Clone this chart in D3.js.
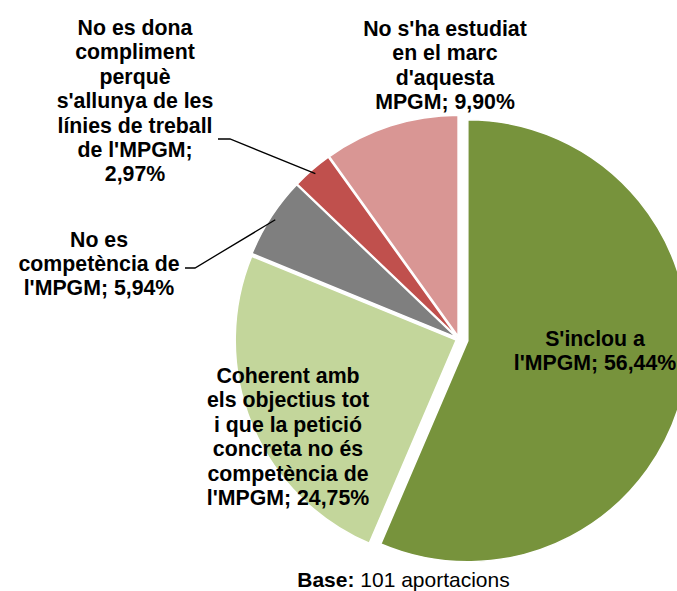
<!DOCTYPE html>
<html>
<head>
<meta charset="utf-8">
<script src="https://cdn.jsdelivr.net/npm/d3@7"></script>
<style>
  html, body { margin: 0; padding: 0; background: #fff; }
  svg text { font-family: "Liberation Sans", Arial, sans-serif; }
</style>
</head>
<body>
<svg id="chart" width="677" height="591"></svg>
<script>
// categories, in drawing order (clockwise from 12 o'clock)
const categories = [
    "S'inclou a l'MPGM",
    "Coherent amb els objectius tot i que la petició concreta no és competència de l'MPGM",
    "No es competència de l'MPGM",
    "No es dona compliment perquè s'allunya de les línies de treball de l'MPGM",
    "No s'ha estudiat en el marc d'aquesta MPGM"
];
const values = [56.44, 24.75, 5.94, 2.97, 9.90];
const colors = ["#77933C", "#C3D69B", "#7F7F7F", "#C0504D", "#D99694"];
// label text split into lines, the value gets appended to the last one
const labelLines = [
    ["S'inclou a", "l'MPGM;"],
    ["Coherent amb", "els objectius tot", "i que la petició", "concreta no és", "competència de", "l'MPGM;"],
    ["No es", "competència de", "l'MPGM;"],
    ["No es dona", "compliment", "perquè", "s'allunya de les", "línies de treball", "de l'MPGM;", ""],
    ["No s'ha estudiat", "en el marc", "d'aquesta", "MPGM;"]
];
const baseCount = 101;

// layout
const cx = 459, cy = 339, radius = 221;
const explode = [9, 3, 3, 3, 3];
const lineH = 24.4;
const labelPos = [
    { x: 595, y: 346 },
    { x: 288, y: 383 },
    { x: 99, y: 246.5 },
    { x: 135, y: 35 },
    { x: 445, y: 36 }
];
// leader lines: elbow from x0 to x1 at height y, then to the slice
const leaders = [null, null, { x0: 185, x1: 195, y: 268 }, { x0: 218, x1: 230, y: 139 }, null];

const fmt = v => d3.format(".2f")(v).replace(".", ",") + "%";

const svg = d3.select("#chart");
const pie = d3.pie().sort(null).value(d => d)(values);
const arc = d3.arc().innerRadius(0).outerRadius(radius);

const offset = (d, i) => {
    const a = (d.startAngle + d.endAngle) / 2;
    return [Math.sin(a) * explode[i], -Math.cos(a) * explode[i]];
};

const g = svg.append("g").attr("transform", `translate(${cx},${cy})`);

g.selectAll("path.slice")
    .data(pie)
    .join("path")
    .attr("class", "slice")
    .attr("transform", (d, i) => {
        const o = offset(d, i);
        return `translate(${o[0]},${o[1]})`;
    })
    .attr("d", arc)
    .attr("fill", (d, i) => colors[i])
    .attr("stroke", "#fff")
    .attr("stroke-width", 1.5)
    .attr("stroke-linejoin", "miter");

// leader lines
pie.forEach((d, i) => {
    if (!leaders[i]) return;
    const a = (d.startAngle + d.endAngle) / 2;
    const o = offset(d, i);
    const r = radius - 5;
    const ex = cx + o[0] + Math.sin(a) * r;
    const ey = cy + o[1] - Math.cos(a) * r;
    const L = leaders[i];
    svg.append("path")
        .attr("d", `M${L.x0},${L.y}L${L.x1},${L.y}L${ex},${ey}`)
        .attr("fill", "none")
        .attr("stroke", "#000")
        .attr("stroke-width", 1.3);
});

// labels
labelLines.forEach((lines, i) => {
    const ls = lines.slice();
    const last = ls.length - 1;
    if (ls[last] === "") ls[last] = fmt(values[i]);
    else ls[last] = ls[last] + " " + fmt(values[i]);
    const t = svg.append("text")
        .attr("x", labelPos[i].x)
        .attr("y", labelPos[i].y)
        .attr("text-anchor", "middle")
        .attr("font-size", 21.3)
        .attr("font-weight", "bold")
        .attr("fill", "#000");
    ls.forEach((s, j) => {
        t.append("tspan")
            .attr("x", labelPos[i].x)
            .attr("y", labelPos[i].y + j * lineH)
            .text(s);
    });
});

// base note
const note = svg.append("text")
    .attr("x", 403.5)
    .attr("y", 587)
    .attr("text-anchor", "middle")
    .attr("font-size", 21)
    .attr("fill", "#000");
note.append("tspan").attr("font-weight", "bold").text("Base:");
note.append("tspan").text(" " + baseCount + " aportacions");
</script>
</body>
</html>
